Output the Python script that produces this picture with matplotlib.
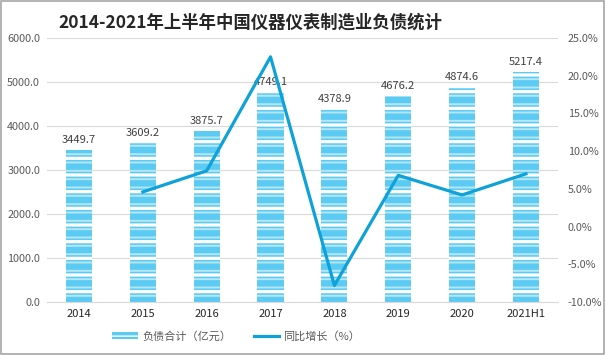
import matplotlib.pyplot as plt
import numpy as np
from matplotlib.lines import Line2D
from matplotlib.patches import Patch

plt.rcParams['font.family'] = ['Noto Sans CJK SC', 'DejaVu Sans']

years = ['2014', '2015', '2016', '2017', '2018', '2019', '2020', '2021H1']
debt = [3449.7, 3609.2, 3875.7, 4749.1, 4378.9, 4676.2, 4874.6, 5217.4]
growth = [np.nan, 4.6, 7.4, 22.5, -7.8, 6.8, 4.2, 7.0]

bar_col = '#5CCBF4'
line_col = '#0EA2D9'
txt_col = '#595959'

fig = plt.figure(figsize=(6.06, 3.55), dpi=100)
ax = fig.add_axes([0.0776, 0.149, 0.843, 0.744])
x = np.arange(len(years))

# полосатые столбцы: тонкие светлые полосы, поверх белые
with plt.rc_context({'hatch.linewidth': 1.4, 'hatch.color': '#B5E6FA'}):
    ax.bar(x, debt, width=0.41, color=bar_col, edgecolor='#B5E6FA', linewidth=0,
           hatch='--', zorder=2)
with plt.rc_context({'hatch.linewidth': 2.3, 'hatch.color': 'white'}):
    ax.bar(x, debt, width=0.41, color='none', edgecolor='white', linewidth=0,
           hatch='-', zorder=3)

for xi, v in zip(x, debt):
    ax.text(xi, v + 130, f'{v:.1f}', ha='center', va='bottom', fontsize=8, color='#404040')

ax.set_ylim(0, 6000)
ax.set_xlim(-0.5, len(years) - 0.5)
ax.set_yticks(np.arange(0, 6001, 1000))
ax.set_yticklabels([f'{v:.1f}' for v in np.arange(0, 6001, 1000)])
ax.set_xticks(x)
ax.set_xticklabels(years)
ax.grid(axis='y', color='#D9D9D9', linewidth=0.8, zorder=0)
ax.set_axisbelow(True)
for s in ['top', 'left', 'right']:
    ax.spines[s].set_visible(False)
ax.spines['bottom'].set_color('#D9D9D9')
ax.tick_params(axis='both', length=0, labelsize=7.8, colors=txt_col, pad=5)
ax.tick_params(axis='x', colors='#262626', labelsize=8)

ax2 = ax.twinx()
ax2.plot(x, growth, color=line_col, linewidth=2.3, zorder=4)
ax2.set_ylim(-10, 25)
ax2.set_yticks(np.arange(-10, 26, 5))
ax2.set_yticklabels([f'{v:.1f}%' for v in np.arange(-10, 26, 5)])
for s in ax2.spines.values():
    s.set_visible(False)
ax2.tick_params(axis='y', length=0, labelsize=7.8, colors=txt_col, pad=7)

fig.suptitle('2014-2021年上半年中国仪器仪表制造业负债统计', x=0.413, y=0.963,
             fontsize=12.5, fontweight='bold', color='#262626')

with plt.rc_context({'hatch.linewidth': 1.5, 'hatch.color': 'white'}):
    h1 = Patch(facecolor=bar_col, edgecolor='white', linewidth=0, hatch='---')
h2 = Line2D([0], [0], color=line_col, linewidth=2.3)
fig.legend([h1, h2], ['负债合计（亿元）', '同比增长（%）'], loc='lower center',
           bbox_to_anchor=(0.39, 0.01), ncol=2, frameon=False, fontsize=8,
           labelcolor=txt_col, handlelength=2.3, handletextpad=0.4, columnspacing=2.0)

# рамка вокруг рисунка
fig.patches.append(plt.Rectangle((0.002, 0.003), 0.994, 0.994, transform=fig.transFigure,
                                 fill=False, edgecolor='#A6A6A6', linewidth=1.2))

fig.savefig('out.png', dpi=100)
